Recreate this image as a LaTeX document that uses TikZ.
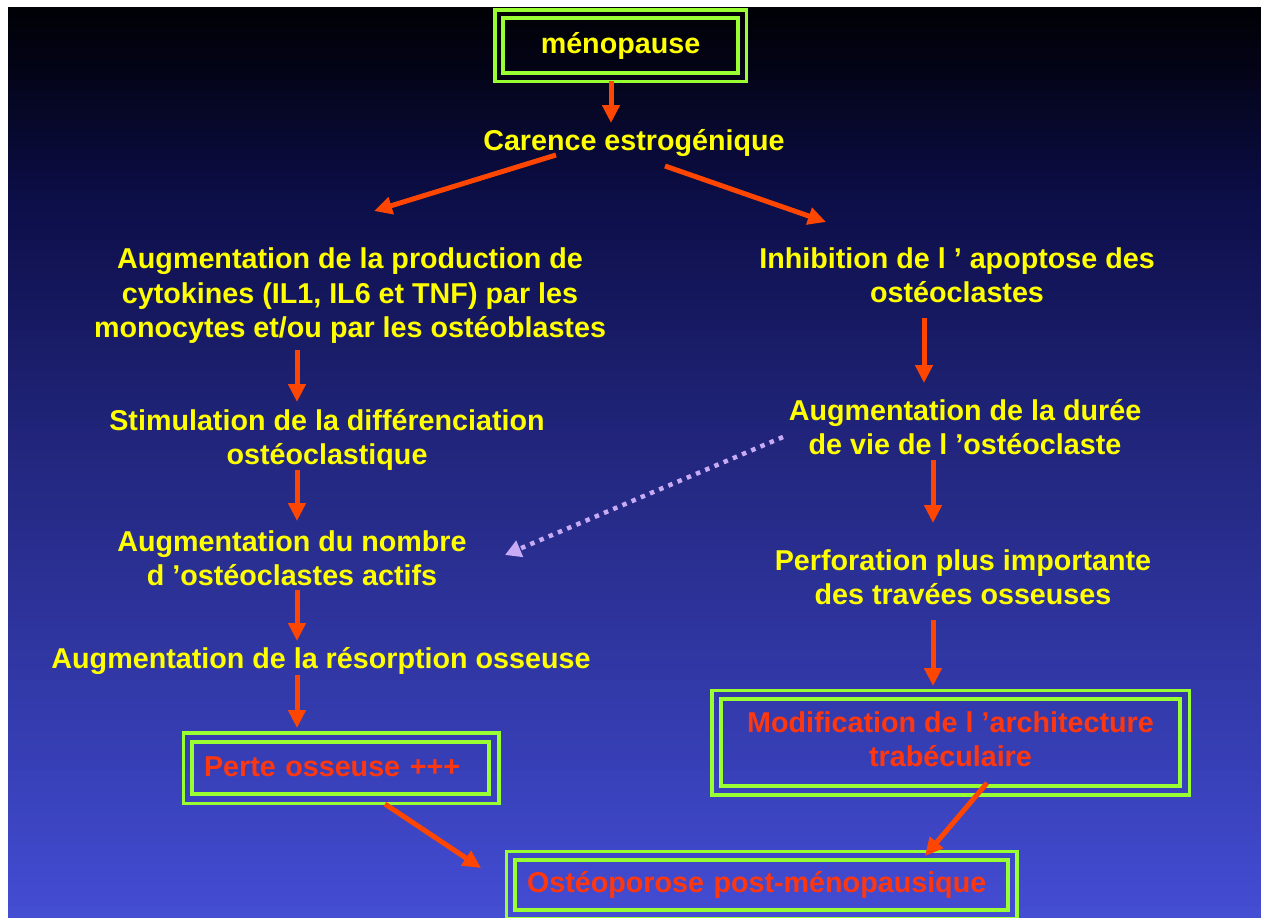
\documentclass[tikz,border=0pt]{standalone}
\usepackage{fontspec}
\setmainfont{Liberation Sans}
\usetikzlibrary{arrows.meta,calc}
\definecolor{c0}{RGB}{0,0,6}
\definecolor{c1}{RGB}{3,3,20}
\definecolor{c2}{RGB}{12,14,72}
\definecolor{c3}{RGB}{34,38,125}
\definecolor{c4}{RGB}{55,63,182}
\definecolor{c5}{RGB}{68,78,212}
\definecolor{ylw}{RGB}{255,255,0}
\definecolor{grn}{RGB}{153,255,51}
\definecolor{arrcol}{RGB}{255,70,0}
\definecolor{redt}{RGB}{255,55,15}
\definecolor{lav}{RGB}{200,170,245}
\begin{document}
\begin{tikzpicture}[x=1pt,y=-1pt,
  txt/.style={text=ylw,font=\bfseries\fontsize{28.7}{34.5}\selectfont,align=center,inner sep=0pt},
  rtxt/.style={text=redt,font=\bfseries\fontsize{28.7}{34.5}\selectfont,align=center,inner sep=0pt},
  ibox/.style={draw=grn,line width=3.5pt},
  obox/.style={draw=grn,line width=3.5pt},
  arw/.style={draw=arrcol,line width=5pt,-{Triangle[length=18pt,width=17pt]}},
  dotarw/.style={draw=lav,line width=4.5pt,dash pattern=on 4.5pt off 5.5pt,-{Triangle[length=16pt,width=17pt]}}]
\useasboundingbox (0,0) rectangle (1261,918);
\fill[white] (0,0) rectangle (1261,918);
% background gradient in bands
\foreach \ya/\yb/\ca/\cb in {7/60/c0/c1,60/200/c1/c2,200/450/c2/c3,450/760/c3/c4,760/918/c4/c5}{
  \pgfmathtruncatemacro\n{(\yb-\ya)/10}
  \pgfmathsetmacro\h{(\yb-\ya)/\n}
  \foreach \k in {1,...,\n}{
    \pgfmathtruncatemacro\p{100*(\k-0.5)/\n}
    \colorlet{cc}{\cb!\p!\ca}
    \fill[cc] (8,{\ya+(\k-1)*\h}) rectangle (1261,{\ya+\k*\h+0.8});
  }
}
% boxed nodes
\node[ibox,txt,minimum width=235,minimum height=55] (meno) at (620.5,45.5) {\raisebox{-1pt}{ménopause}};
\draw[obox] ([shift={(-6.5,-6.5)}]meno.north west) rectangle ([shift={(6.5,6.5)}]meno.south east);
\node[ibox,rtxt,minimum width=297,minimum height=52,text width=273,align=left,inner xsep=12pt] (perte) at (340.5,768) {\raisebox{2pt}{Perte osseuse +++}};
\draw[obox] ([shift={(-7,-7.5)}]perte.north west) rectangle ([shift={(8,7.5)}]perte.south east);
\node[ibox,rtxt,minimum width=493,minimum height=50,text width=469,align=left,inner xsep=12pt] (osteo) at (761.5,885) {\raisebox{-2pt}{Ostéoporose post-ménopausique}};
\draw[obox] ([shift={(-7,-7)}]osteo.north west) rectangle ([shift={(7,7)}]osteo.south east);
\node[ibox,rtxt,minimum width=459,minimum height=87] (modif) at (950.5,742.5) {\raisebox{3pt}{\begin{tabular}{@{}c@{}}Modification de l ’architecture\\[-0.4pt]trabéculaire\end{tabular}}};
\draw[obox] ([shift={(-7.5,-7)}]modif.north west) rectangle ([shift={(7.5,7)}]modif.south east);
% text nodes
\node[txt] (carence) at (634,143) {Carence estrogénique};
\node[txt] (cyto) at (350,296) {Augmentation de la production de\\cytokines (IL1, IL6 et TNF) par les\\monocytes et/ou par les ostéoblastes};
\node[txt] (stim) at (327,440) {Stimulation de la différenciation\\ostéoclastique};
\node[txt] (nomb) at (292,558) {Augmentation du nombre\\d ’ostéoclastes actifs};
\node[txt] (reso) at (321,661) {Augmentation de la résorption osseuse};
\node[txt] (inhib) at (957,275) {Inhibition de l ’ apoptose des\\ostéoclastes};
\node[txt] (duree) at (965,427) {Augmentation de la durée\\de vie de l ’ostéoclaste};
\node[txt] (perfo) at (963,577) {Perforation plus importante\\des travées osseuses};
% arrow end points
\coordinate (a1s) at (611,81);  \coordinate (a1e) at (611,123);
\coordinate (a2s) at (556,155); \coordinate (a2e) at (374,211);
\coordinate (a3s) at (665,166); \coordinate (a3e) at (826,222);
\coordinate (a4s) at (297,350); \coordinate (a4e) at (297,402);
\coordinate (a5s) at (297,470); \coordinate (a5e) at (297,521);
\coordinate (a6s) at (297,590); \coordinate (a6e) at (297,641);
\coordinate (a7s) at (297,675); \coordinate (a7e) at (297,728);
\coordinate (a8s) at (385,804); \coordinate (a8e) at (481,868);
\coordinate (a9s) at (924,318); \coordinate (a9e) at (924,383);
\coordinate (a10s) at (933,460); \coordinate (a10e) at (933,523);
\coordinate (a11s) at (933,620); \coordinate (a11e) at (933,686);
\coordinate (a12s) at (987,783); \coordinate (a12e) at (925,856);
\coordinate (dts) at (783,437); \coordinate (dte) at (505,555);
% connectors
\draw[arw] (a1s) -- (a1e);
\draw[arw] (a2s) -- (a2e);
\draw[arw] (a3s) -- (a3e);
\draw[arw] (a4s) -- (a4e);
\draw[arw] (a5s) -- (a5e);
\draw[arw] (a6s) -- (a6e);
\draw[arw] (a7s) -- (a7e);
\draw[arw] (a8s) -- (a8e);
\draw[arw] (a9s) -- (a9e);
\draw[arw] (a10s) -- (a10e);
\draw[arw] (a11s) -- (a11e);
\draw[arw] (a12s) -- (a12e);
\draw[dotarw] (dts) -- (dte);
\end{tikzpicture}
\end{document}
